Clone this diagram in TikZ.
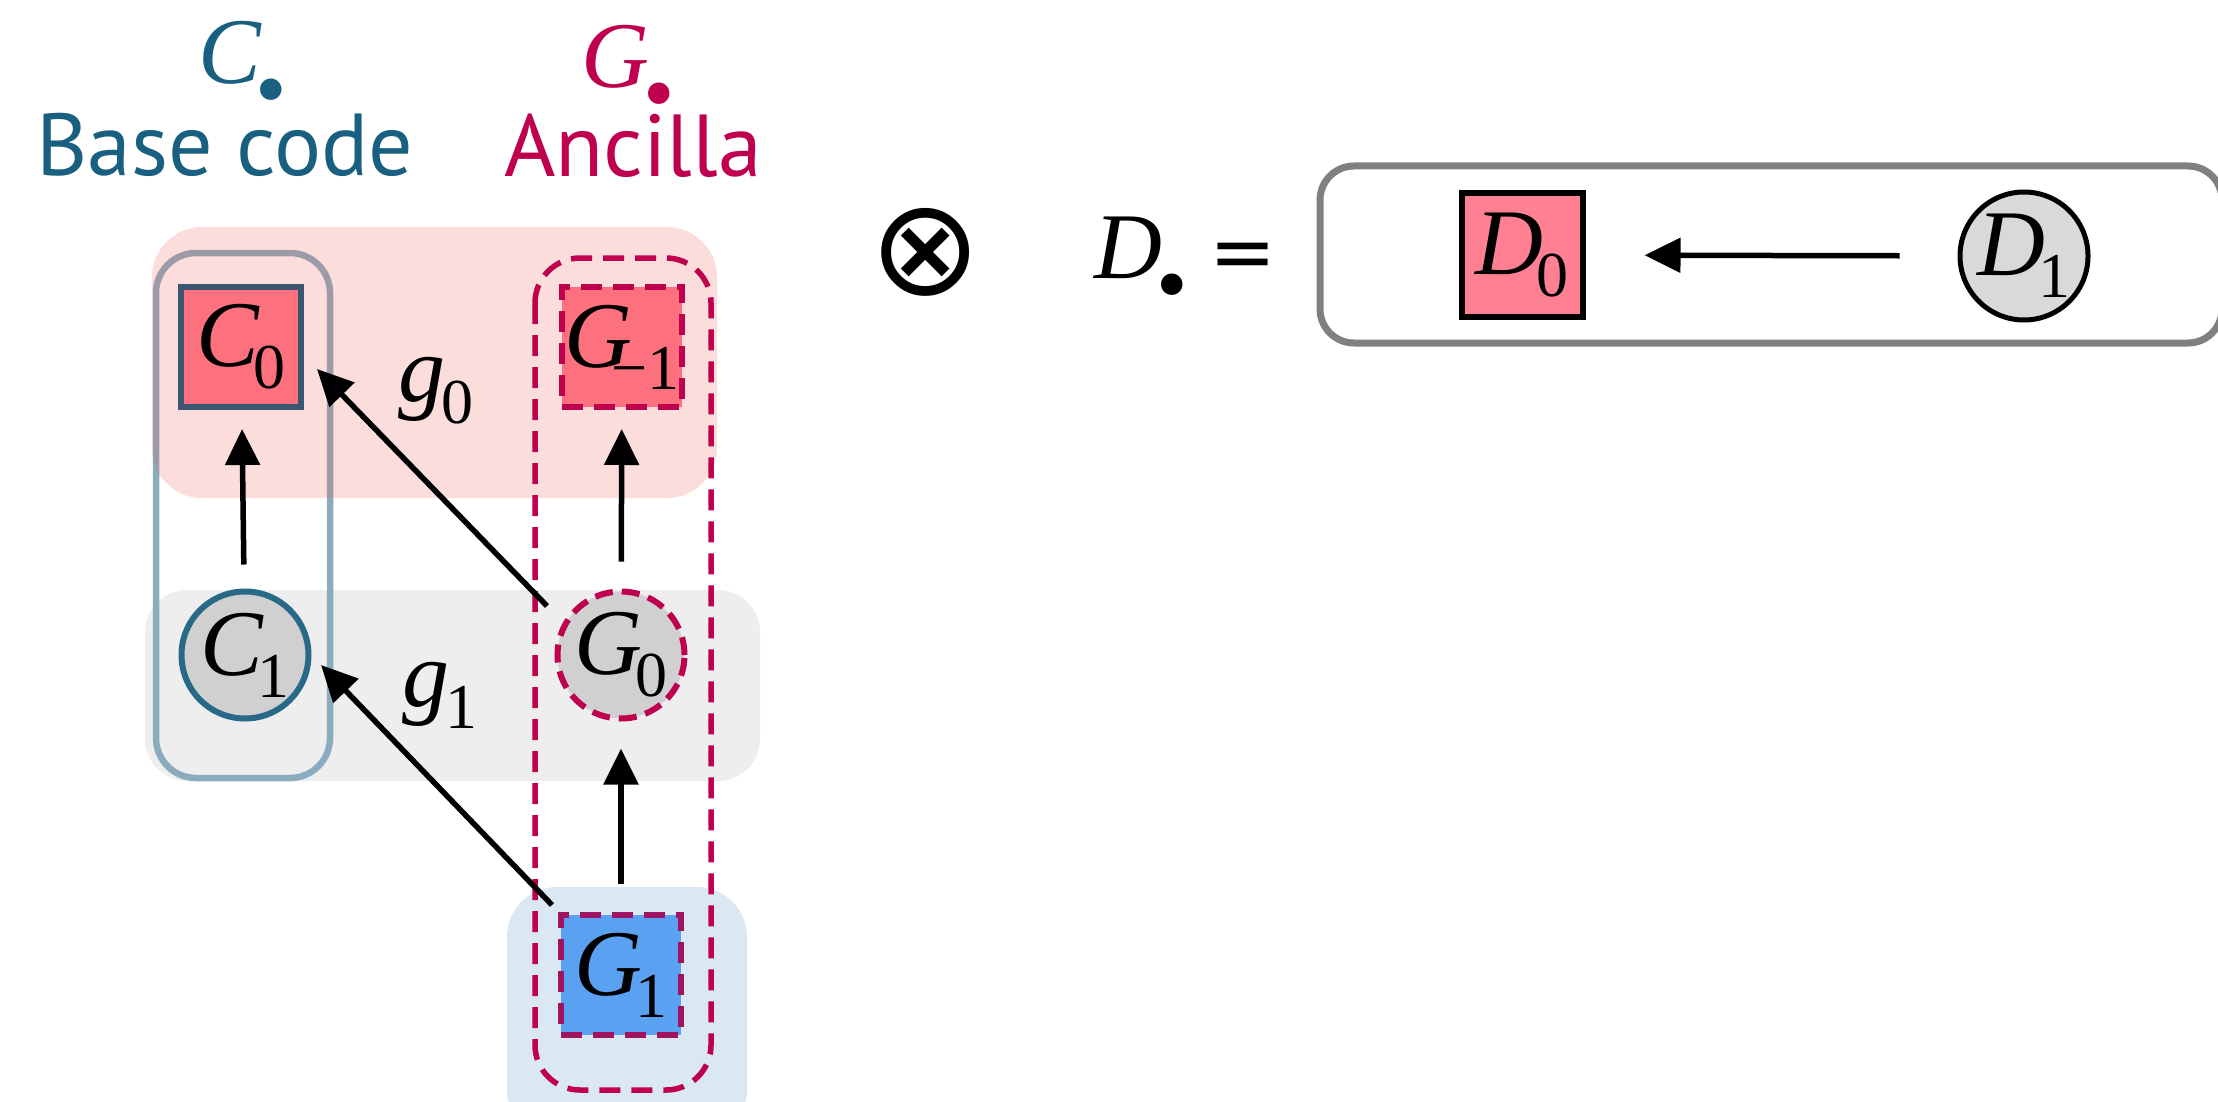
\documentclass[tikz,border=0pt]{standalone}
\usepackage{fontspec}
\setmainfont{Liberation Serif}
\newfontfamily\ttlfont{PT Sans}
\newfontfamily\symfont{DejaVu Sans}
\usetikzlibrary{arrows.meta,calc}
\definecolor{cblue}{RGB}{25,95,128}
\definecolor{gred}{RGB}{190,0,78}
\definecolor{cofill}{RGB}{253,113,126}
\definecolor{coline}{RGB}{58,86,112}
\definecolor{colline}{RGB}{138,172,190}
\definecolor{pinkband}{RGB}{235,90,75}
\definecolor{grayband}{RGB}{238,238,238}
\definecolor{blueband}{RGB}{218,232,243}
\definecolor{nodegray}{RGB}{208,208,208}
\definecolor{cline}{RGB}{40,105,135}
\definecolor{gfill}{RGB}{91,161,242}
\definecolor{gline}{RGB}{160,20,95}
\definecolor{dfill}{RGB}{255,128,146}
\definecolor{dgray}{RGB}{217,217,217}
\definecolor{boxgray}{RGB}{128,128,128}
\newcommand\mylet[3][-6pt]{{\fontsize{94}{94}\selectfont\itshape #2}\kern#1\raisebox{-22pt}{\fontsize{64}{64}\selectfont\upshape #3}}
\newcommand\mydot{\raisebox{-36pt}{\fontsize{90}{90}\selectfont\upshape\textbullet}}
\begin{document}
\begin{tikzpicture}[x=1pt,y=-1pt,
  sqnode/.style={rectangle,minimum width=120pt,minimum height=120pt,inner sep=0pt,line width=6pt},
  crnode/.style={circle,minimum size=127pt,inner sep=0pt,line width=6pt},
  arr/.style={draw=black,line width=5.5pt,-{Triangle[length=36pt,width=34pt]}},
  dsh/.style={dash pattern=on 21pt off 11pt},
  cdsh/.style={dash pattern=on 18pt off 9pt},
  lbl/.style={inner sep=0pt,font=\fontsize{94}{94}\selectfont\itshape},
  ttl/.style={inner sep=0pt,anchor=base,font=\ttlfont\fontsize{88}{88}\selectfont}]
\useasboundingbox (0,0) rectangle (2218,1102);
\begin{scope}
\clip (0,0) rectangle (2218,1102);
% background bands
\fill[grayband,rounded corners=42pt] (145,590) rectangle (760,781);
\fill[blueband,rounded corners=50pt] (507,887) rectangle (747,1140);
% base code column
\draw[colline,line width=6.5pt,rounded corners=40pt] (156,253) rectangle (330,778);
\fill[pinkband,fill opacity=0.2,rounded corners=50pt] (152,227) rectangle (717,498);
% ancilla column
\draw[gred,line width=5.5pt,dsh,rounded corners=45pt] (535,258) rectangle (711,1090);
% D box
\draw[boxgray,line width=7pt,rounded corners=34pt] (1320,166) rectangle (2222,343);
\end{scope}
% titles
\node[lbl,text=cblue,anchor=base] (Ct) at (243,84) {C\kern-6pt\mydot};
\node[ttl,text=cblue] (Cb) at (225,176) {Base code};
\node[lbl,text=gred,anchor=base] (Gt) at (628,88) {G\kern-6pt\mydot};
\node[ttl,text=gred] (Ga) at (633,177) {Ancilla};
% nodes
\node[sqnode,draw=coline,fill=cofill] (C0) at (241,347) {\mylet{C}{0}};
\node[sqnode,draw=gred,fill=cofill,dsh] (Gm1) at (622,347) {\mylet[-20pt]{G}{−1}};
\node[crnode,draw=cline,fill=nodegray] (C1) at (245,655) {\mylet{C}{1}};
\node[crnode,draw=gred,fill=nodegray,cdsh] (G0) at (621,655) {\mylet{G}{0}};
\node[sqnode,draw=gline,fill=gfill,dsh] (G1) at (621,975) {\mylet{G}{1}};
% arrows
\draw[arr,shorten <=24pt,shorten >=19pt] (C1) -- (C0);
\draw[arr,shorten <=27pt,shorten >=19pt] (G0) -- (Gm1);
\draw[arr,shorten <=28pt,shorten >=27pt] (G1) -- (G0);
\draw[arr] ($(G0.center)+(-74,-49)$) -- ($(C0.center)+(76,22)$);
\draw[arr] ($(G1.center)+(-69,-70)$) -- ($(C1.center)+(76,10)$);
\node[lbl] (g0) at (436,391) {\mylet[-4pt]{g}{0}};
\node[lbl] (g1) at (440,695) {\mylet[-4pt]{g}{1}};
% right part
\node[inner sep=0pt,font=\symfont\fontsize{134}{134}\selectfont] (ot) at (926,252) {⊗};
\node[lbl,anchor=base] (Dt) at (1141,278) {D\kern-6pt\mydot};
\node[inner sep=0pt,font=\symfont\fontsize{80}{80}\selectfont] (eq) at (1243,261) {=};
\node[sqnode,minimum width=121pt,minimum height=123pt,draw=black,fill=dfill] (D0) at (1522,255) {\mylet{D}{0}};
\node[crnode,minimum size=128pt,line width=5pt,draw=black,fill=dgray] (D1) at (2024,256) {\mylet{D}{1}};
\draw[arr,shorten <=58pt,shorten >=59pt] (D1) -- (D0);
\end{tikzpicture}
\end{document}
